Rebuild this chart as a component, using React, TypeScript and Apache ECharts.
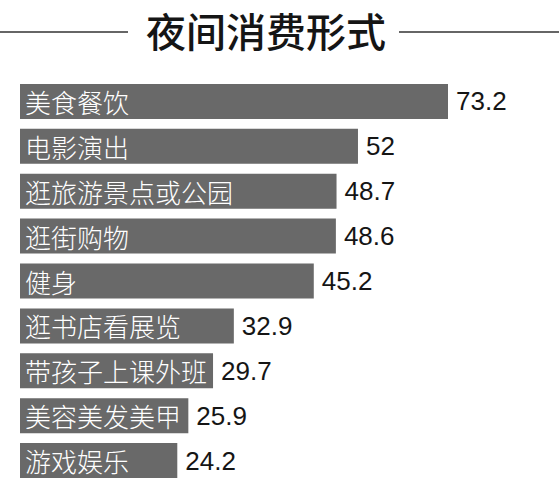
import { useEffect, useRef } from 'react';
import * as echarts from 'echarts';

const categories = [
  '美食餐饮',
  '电影演出',
  '逛旅游景点或公园',
  '逛街购物',
  '健身',
  '逛书店看展览',
  '带孩子上课外班',
  '美容美发美甲',
  '游戏娱乐',
];
const values = [73.2, 52, 48.7, 48.6, 45.2, 32.9, 29.7, 25.9, 24.2];

const TITLE = '夜间消费形式';
const CJK = '"Noto Sans CJK SC", "Noto Sans", sans-serif';

export default function App() {
  const ref = useRef<HTMLDivElement>(null);

  useEffect(() => {
    const dom = ref.current!;
    const chart = echarts.init(dom, undefined, { renderer: 'svg' });

    chart.setOption({
      animation: false,
      backgroundColor: '#fff',
      title: {
        text: TITLE,
        left: 146,
        top: 10,
        padding: 0,
        textStyle: { fontFamily: CJK, fontSize: 40, fontWeight: 500, color: '#151515' },
      },
      graphic: [
        { type: 'line', shape: { x1: 0, y1: 32, x2: 128, y2: 32 }, style: { stroke: '#333', lineWidth: 1.5 } },
        { type: 'line', shape: { x1: 399, y1: 32, x2: 559, y2: 32 }, style: { stroke: '#333', lineWidth: 1.5 } },
      ],
      grid: { left: 20, top: 79, width: 428, height: 411 },
      xAxis: { type: 'value', min: 0, max: 65.85, show: false },
      yAxis: {
        type: 'category',
        inverse: true,
        data: categories,
        z: 5,
        axisLine: { show: false },
        axisTick: { show: false },
        splitLine: { show: false },
        axisLabel: {
          inside: true,
          margin: 5,
          color: '#fff',
          fontFamily: CJK,
          fontWeight: 300,
          fontSize: 26,
        },
      },
      series: [
        {
          type: 'bar',
          data: values,
          barWidth: 35,
          clip: true,
          itemStyle: { color: '#696969' },
          label: {
            show: true,
            position: 'right',
            distance: 8,
            color: '#151515',
            fontFamily: '"Liberation Sans", Arial, sans-serif',
            fontSize: 26,
          },
        },
      ],
    } as echarts.EChartsOption);

    return () => chart.dispose();
  }, []);

  return (
    <div
      ref={ref}
      style={{ position: 'fixed', left: 0, top: 0, width: 559, height: 483 }}
    />
  );
}
